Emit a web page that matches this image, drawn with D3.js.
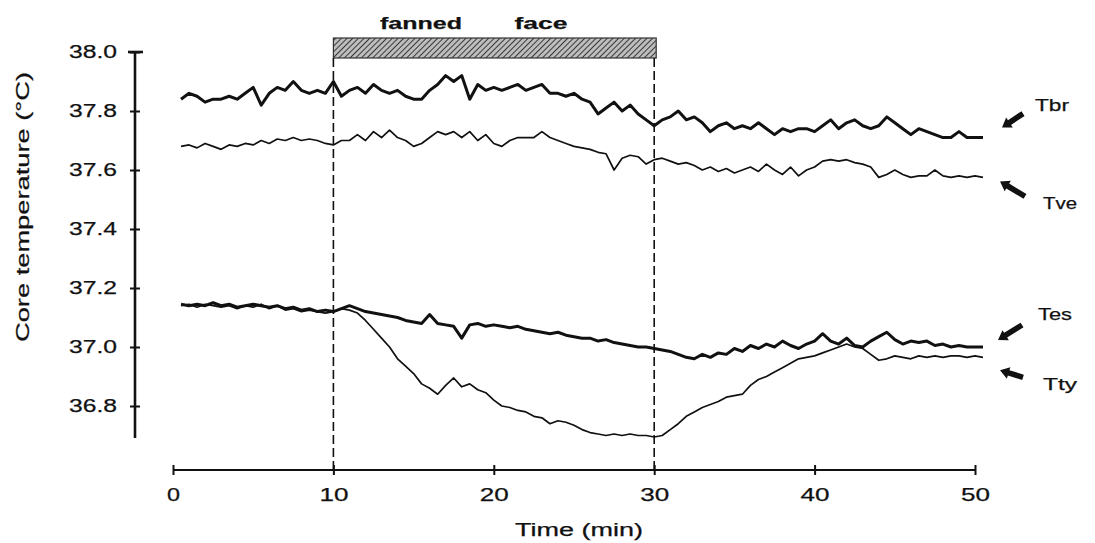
<!DOCTYPE html>
<html>
<head>
<meta charset="utf-8">
<script src="https://cdn.jsdelivr.net/npm/d3@7"></script>
<style>
  html, body { margin: 0; padding: 0; background: #fff; }
  text { font-family: "Liberation Sans", Arial, Helvetica, sans-serif; fill: #111; stroke: #111; stroke-width: 0.25px; }
</style>
</head>
<body>
<div id="chart"></div>
<script>
"use strict";

// sample times (min)
const minutes = [
  0.5, 1.0, 1.5, 2.0, 2.5, 3.0, 3.5, 4.0, 4.5, 5.0, 5.5, 6.0, 6.5, 7.0, 7.5, 8.0, 8.5, 9.0, 9.5, 10.0,
  10.5, 11.0, 11.5, 12.0, 12.5, 13.0, 13.5, 14.0, 14.5, 15.0, 15.5, 16.0, 16.5, 17.0, 17.5, 18.0, 18.5, 19.0, 19.5, 20.0,
  20.5, 21.0, 21.5, 22.0, 22.5, 23.0, 23.5, 24.0, 24.5, 25.0, 25.5, 26.0, 26.5, 27.0, 27.5, 28.0, 28.5, 29.0, 29.5, 30.0,
  30.5, 31.0, 31.5, 32.0, 32.5, 33.0, 33.5, 34.0, 34.5, 35.0, 35.5, 36.0, 36.5, 37.0, 37.5, 38.0, 38.5, 39.0, 39.5, 40.0,
  40.5, 41.0, 41.5, 42.0, 42.5, 43.0, 43.5, 44.0, 44.5, 45.0, 45.5, 46.0, 46.5, 47.0, 47.5, 48.0, 48.5, 49.0, 49.5, 50.0,
  50.5
];

const tbr = [
  37.84, 37.86, 37.85, 37.83, 37.84, 37.84, 37.85, 37.84, 37.86, 37.88, 37.82, 37.86, 37.88, 37.87, 37.90, 37.87, 37.86, 37.87, 37.86, 37.90,
  37.85, 37.87, 37.88, 37.86, 37.89, 37.87, 37.86, 37.87, 37.85, 37.84, 37.84, 37.87, 37.89, 37.92, 37.90, 37.92, 37.84, 37.89, 37.87, 37.88,
  37.87, 37.88, 37.89, 37.87, 37.88, 37.89, 37.86, 37.86, 37.85, 37.86, 37.84, 37.83, 37.79, 37.81, 37.83, 37.80, 37.82, 37.79, 37.77, 37.75,
  37.77, 37.78, 37.80, 37.77, 37.78, 37.76, 37.73, 37.75, 37.76, 37.74, 37.75, 37.74, 37.76, 37.74, 37.72, 37.74, 37.73, 37.74, 37.74, 37.73,
  37.75, 37.77, 37.74, 37.76, 37.77, 37.75, 37.74, 37.75, 37.78, 37.76, 37.74, 37.72, 37.74, 37.73, 37.72, 37.71, 37.71, 37.73, 37.71, 37.71,
  37.71
];

const tve = [
  37.68, 37.685, 37.675, 37.69, 37.68, 37.67, 37.685, 37.68, 37.69, 37.685, 37.70, 37.69, 37.705, 37.70, 37.71, 37.70, 37.705, 37.70, 37.69, 37.685,
  37.70, 37.70, 37.72, 37.70, 37.73, 37.71, 37.735, 37.71, 37.70, 37.68, 37.69, 37.71, 37.73, 37.72, 37.73, 37.71, 37.73, 37.70, 37.72, 37.69,
  37.68, 37.70, 37.71, 37.71, 37.71, 37.73, 37.71, 37.70, 37.69, 37.68, 37.675, 37.67, 37.66, 37.655, 37.60, 37.64, 37.65, 37.645, 37.62, 37.635,
  37.64, 37.63, 37.62, 37.625, 37.615, 37.60, 37.61, 37.595, 37.605, 37.59, 37.60, 37.61, 37.595, 37.62, 37.60, 37.585, 37.61, 37.58, 37.60, 37.61,
  37.63, 37.635, 37.63, 37.635, 37.625, 37.62, 37.61, 37.575, 37.585, 37.60, 37.585, 37.575, 37.58, 37.58, 37.60, 37.58, 37.575, 37.58, 37.575, 37.58,
  37.575
];

const tes = [
  37.145, 37.14, 37.145, 37.14, 37.15, 37.14, 37.145, 37.135, 37.14, 37.145, 37.14, 37.135, 37.14, 37.13, 37.135, 37.125, 37.13, 37.12, 37.125, 37.12,
  37.13, 37.14, 37.13, 37.12, 37.115, 37.11, 37.105, 37.10, 37.09, 37.085, 37.08, 37.11, 37.08, 37.075, 37.07, 37.03, 37.075, 37.08, 37.07, 37.075,
  37.07, 37.065, 37.07, 37.06, 37.055, 37.05, 37.045, 37.05, 37.04, 37.035, 37.03, 37.03, 37.02, 37.025, 37.015, 37.01, 37.005, 37.00, 37.00, 36.995,
  36.99, 36.985, 36.975, 36.965, 36.96, 36.975, 36.965, 36.98, 36.975, 36.995, 36.985, 37.005, 36.995, 37.01, 37.00, 37.02, 37.005, 36.995, 37.01, 37.02,
  37.045, 37.02, 37.01, 37.03, 37.005, 37.00, 37.02, 37.035, 37.05, 37.025, 37.01, 37.02, 37.015, 37.02, 37.005, 37.01, 37.00, 37.005, 37.00, 37.00,
  37.00
];

const tty = [
  37.14, 37.145, 37.135, 37.145, 37.14, 37.135, 37.14, 37.13, 37.14, 37.135, 37.145, 37.13, 37.14, 37.125, 37.13, 37.12, 37.125, 37.12, 37.115, 37.12,
  37.13, 37.125, 37.115, 37.09, 37.06, 37.03, 37.00, 36.96, 36.935, 36.91, 36.875, 36.86, 36.84, 36.87, 36.895, 36.865, 36.875, 36.855, 36.845, 36.82,
  36.80, 36.795, 36.785, 36.78, 36.765, 36.76, 36.74, 36.75, 36.745, 36.735, 36.72, 36.71, 36.705, 36.70, 36.705, 36.70, 36.705, 36.70, 36.70, 36.695,
  36.70, 36.72, 36.74, 36.765, 36.78, 36.795, 36.805, 36.815, 36.83, 36.835, 36.84, 36.87, 36.89, 36.90, 36.915, 36.93, 36.945, 36.96, 36.965, 36.97,
  36.98, 36.99, 37.00, 37.01, 37.00, 36.995, 36.975, 36.955, 36.96, 36.97, 36.965, 36.96, 36.97, 36.965, 36.97, 36.965, 36.97, 36.97, 36.965, 36.97,
  36.965
];

const seriesNames = ["Tbr", "Tve", "Tes", "Tty"];
const seriesValues = [tbr, tve, tes, tty];
const thickSeries = ["Tbr", "Tes"];

const xTicks = [0, 10, 20, 30, 40, 50];
const yTicks = [36.8, 37.0, 37.2, 37.4, 37.6, 37.8, 38.0];
const fanPeriod = [10, 30];
const fanLabels = ["fanned", "face"];

const W = 1095, H = 543;

const svg = d3.select("#chart").append("svg")
  .attr("width", W)
  .attr("height", H);

const x = d3.scaleLinear().domain([0, 50]).range([173, 975]);
const y = d3.scaleLinear().domain([36.8, 38.0]).range([406, 52]);
const axisY = 470;   // baseline of time axis
const axisX = 135;   // position of temperature axis

// hatch pattern for the fanning bar
const defs = svg.append("defs");
const pat = defs.append("pattern")
  .attr("id", "hatch")
  .attr("patternUnits", "userSpaceOnUse")
  .attr("width", 4).attr("height", 4)
  .attr("patternTransform", "rotate(45)");
pat.append("rect").attr("width", 4).attr("height", 4).attr("fill", "#bdbdbd");
pat.append("line").attr("x1", 0).attr("y1", 0).attr("x2", 0).attr("y2", 4)
  .attr("stroke", "#2a2a2a").attr("stroke-width", 1.8);

// fanning bar + labels
const barTop = 38, barBottom = 58;
svg.append("rect")
  .attr("x", x(fanPeriod[0]))
  .attr("y", barTop)
  .attr("width", x(fanPeriod[1]) - x(fanPeriod[0]) + 2)
  .attr("height", barBottom - barTop)
  .attr("fill", "url(#hatch)")
  .attr("stroke", "#333")
  .attr("stroke-width", 1.2);

svg.append("text").attr("x", 421).attr("y", 29)
  .attr("text-anchor", "middle")
  .attr("font-size", 17).attr("font-weight", "bold")
  .attr("textLength", 82).attr("lengthAdjust", "spacingAndGlyphs")
  .text(fanLabels[0]);
svg.append("text").attr("x", 541).attr("y", 29)
  .attr("text-anchor", "middle")
  .attr("font-size", 17).attr("font-weight", "bold")
  .attr("textLength", 53).attr("lengthAdjust", "spacingAndGlyphs")
  .text(fanLabels[1]);

// dashed verticals at start and end of fanning
svg.selectAll(".fan-line")
  .data(fanPeriod)
  .join("line")
  .attr("class", "fan-line")
  .attr("x1", d => x(d)).attr("x2", d => x(d))
  .attr("y1", barBottom).attr("y2", axisY)
  .attr("stroke", "#111")
  .attr("stroke-width", 1.6)
  .attr("stroke-dasharray", "9,4");

// y axis
const gy = svg.append("g")
  .attr("transform", `translate(${axisX},0)`)
  .call(d3.axisLeft(y).tickValues(yTicks).tickSize(0).tickFormat(d3.format(".1f")));
gy.select(".domain").remove();
gy.selectAll(".tick text")
  .attr("x", -18)
  .attr("font-size", 18)
  .attr("font-family", "Liberation Sans, Arial, sans-serif")
  .attr("fill", "#111")
  .attr("textLength", 48)
  .attr("lengthAdjust", "spacingAndGlyphs");
gy.selectAll(".tick line")
  .attr("x1", -5).attr("x2", 5)
  .attr("stroke", "#111").attr("stroke-width", 2);
svg.append("line")
  .attr("x1", axisX).attr("x2", axisX)
  .attr("y1", y(38.0)).attr("y2", 438)
  .attr("stroke", "#111").attr("stroke-width", 2.6);
svg.append("line")
  .attr("x1", axisX - 7).attr("x2", axisX + 8)
  .attr("y1", y(38.0)).attr("y2", y(38.0))
  .attr("stroke", "#111").attr("stroke-width", 2.6);

svg.append("text")
  .attr("transform", `translate(29,${207}) rotate(-90)`)
  .attr("text-anchor", "middle")
  .attr("font-size", 19)
  .attr("textLength", 270).attr("lengthAdjust", "spacingAndGlyphs")
  .text("Core temperature (\u00B0C)");

// x axis
const gx = svg.append("g")
  .attr("transform", `translate(0,${axisY})`)
  .call(d3.axisBottom(x).tickValues(xTicks).tickSize(0));
gx.select(".domain").remove();
gx.selectAll(".tick line")
  .attr("y1", -5).attr("y2", 5)
  .attr("stroke", "#111").attr("stroke-width", 2);
gx.selectAll(".tick text")
  .attr("y", 18)
  .attr("font-size", 18)
  .attr("font-family", "Liberation Sans, Arial, sans-serif")
  .attr("fill", "#111")
  .attr("textLength", d => d === 0 ? 13 : 29)
  .attr("lengthAdjust", "spacingAndGlyphs");
svg.append("line")
  .attr("x1", x(0)).attr("x2", x(50))
  .attr("y1", axisY).attr("y2", axisY)
  .attr("stroke", "#111").attr("stroke-width", 2.2);

svg.append("text")
  .attr("x", 579).attr("y", 536)
  .attr("text-anchor", "middle")
  .attr("font-size", 18)
  .attr("textLength", 128).attr("lengthAdjust", "spacingAndGlyphs")
  .text("Time (min)");

// traces
const line = d3.line()
  .x(d => x(d[0]))
  .y(d => y(d[1]))
  .curve(d3.curveLinear);

seriesNames.forEach((name, i) => {
  const pts = minutes.map((t, j) => [t, seriesValues[i][j]]);
  svg.append("path")
    .datum(pts)
    .attr("fill", "none")
    .attr("stroke", "#111")
    .attr("stroke-width", thickSeries.includes(name) ? 3 : 1.7)
    .attr("stroke-linejoin", "round")
    .attr("d", line);
});

// end labels with arrows, placed relative to the end of each trace
// [head dx, head dy, tail dx, tail dy, label dx, label dy]
const labelOffsets = {
  Tbr: [19, -10, 40, -24, 52, -33],
  Tve: [17, 4, 42, 19, 60, 26],
  Tes: [15, -7, 39, -22, 55, -33],
  Tty: [17, 13, 40, 20, 60, 27]
};

seriesNames.forEach((name, i) => {
  const vals = seriesValues[i];
  const ex = x(minutes[minutes.length - 1]);
  const ey = y(vals[vals.length - 1]);
  const o = labelOffsets[name];
  const hx = ex + o[0], hy = ey + o[1];
  const tx = ex + o[2], ty = ey + o[3];
  const ang = Math.atan2(hy - ty, hx - tx) * 180 / Math.PI;
  const len = Math.hypot(hx - tx, hy - ty);
  // arrow drawn along +x then rotated
  const g = svg.append("g")
    .attr("transform", `translate(${tx},${ty}) rotate(${ang})`);
  g.append("path")
    .attr("d", `M0,-2.8 L${len - 9},-2.8 L${len - 9},-6 L${len},0 L${len - 9},6 L${len - 9},2.8 L0,2.8 Z`)
    .attr("fill", "#111");

  svg.append("text")
    .attr("x", ex + o[4])
    .attr("y", ey + o[5] + 6)
    .attr("font-size", 17)
    .attr("textLength", 34).attr("lengthAdjust", "spacingAndGlyphs")
    .text(name);
});
</script>
</body>
</html>
